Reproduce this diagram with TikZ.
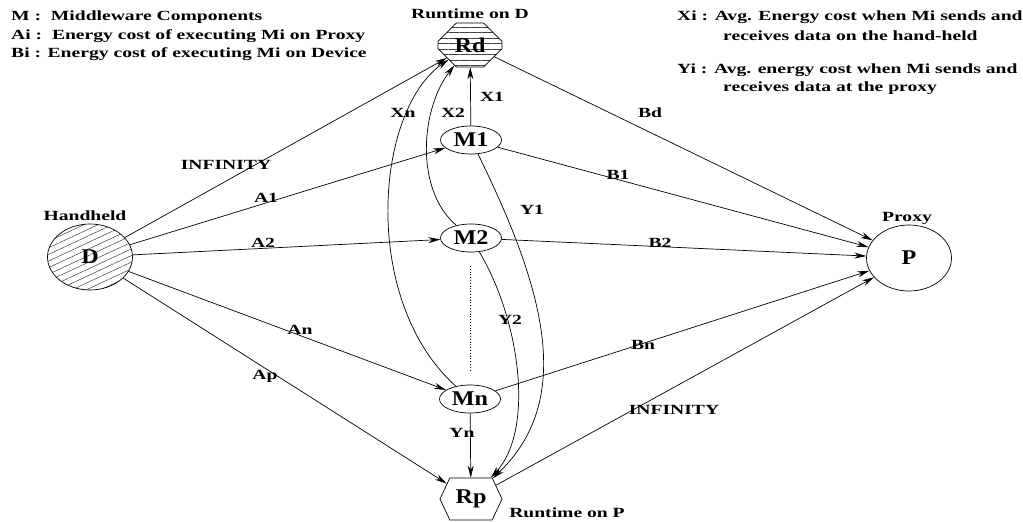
\documentclass[tikz,border=0pt]{standalone}
\usepackage{fontspec}
\setmainfont{Liberation Serif}[FakeStretch=1.4]
\newfontfamily\nodefont{Liberation Serif}[FakeStretch=1.15]
\usetikzlibrary{arrows.meta,shapes.geometric,shapes.misc,shapes.symbols,patterns.meta}
\begin{document}
\begin{tikzpicture}[x=1pt,y=-1pt,
  lbl/.style={font=\fontsize{14}{16}\selectfont\bfseries, inner sep=1pt},
  bigtxt/.style={font=\nodefont\fontsize{21}{21}\selectfont\bfseries},
  mnode/.style={ellipse, draw, line width=0.7pt, minimum width=61pt, minimum height=28pt, inner sep=0pt, bigtxt},
  endnode/.style={ellipse, draw, line width=0.7pt, minimum width=85pt, minimum height=66pt, inner sep=0pt, bigtxt},
  arr/.style={line width=0.7pt, -{Stealth[length=12pt,width=6pt]}}
]
\useasboundingbox (0,0) rectangle (1023,522);

% nodes
\node[endnode, pattern={Lines[angle=25,distance=6pt,line width=0.5pt]}, pattern color=black!75] (D) at (90,257) {D};
\node[endnode] (P) at (909,258) {P};
\node[chamfered rectangle, draw, line width=0.7pt, minimum width=64pt, minimum height=44pt, inner sep=0pt,
      chamfered rectangle xsep=11pt, chamfered rectangle ysep=11pt,
      pattern={Lines[angle=0,distance=5.5pt,line width=0.5pt]}, pattern color=black!75, bigtxt] (Rd) at (470,45) {Rd};
\node[mnode] (M1) at (471,140) {M1};
\node[mnode] (M2) at (471,238) {M2};
\node[mnode] (Mn) at (470,399) {Mn};
\node[signal, signal to=west and east, signal pointer angle=130, draw, line width=0.7pt,
      minimum width=62pt, minimum height=42pt, inner sep=0pt, bigtxt] (Rp) at (471,499) {Rp};

% dotted line
\draw[line width=0.8pt, dotted] (470,266) -- (470,370);

% edges from D
\draw[arr] (D) -- (Rd);
\draw[arr] (D) -- (M1);
\draw[arr] (D) -- (M2);
\draw[arr] (D) -- (Mn);
\draw[arr] (D) -- (Rp);
% edges to P
\draw[arr] (Rd) -- (P);
\draw[arr] (M1) -- (P);
\draw[arr] (M2) -- (P);
\draw[arr] (Mn) -- (P);
\draw[arr] (Rp) -- (P);
% edges to Rd
\draw[arr] (M1) -- (Rd);
\draw[arr] (M2) .. controls (415,190) and (420,110) .. (Rd);
\draw[arr] (Mn) .. controls (360,300) and (375,110) .. (Rd);
% edges to Rp
\draw[arr] (Mn) -- (Rp);
\draw[arr] (M1) .. controls (545,290) and (575,400) .. (Rp);
\draw[arr] (M2) .. controls (520,320) and (535,430) .. (Rp);

% node captions
\node[lbl] (capD) at (85,216) {Handheld};
\node[lbl] (capRd) at (470,14) {Runtime on D};
\node[lbl] (capP) at (907,218) {Proxy};
\node[lbl] (capRp) at (567,513) {Runtime on P};

% edge labels
\node[lbl] (l1) at (226,165) {INFINITY};
\node[lbl] (l2) at (266,198) {A1};
\node[lbl] (l3) at (263,243) {A2};
\node[lbl] (l4) at (300,330) {An};
\node[lbl] (l5) at (265,376) {Ap};
\node[lbl] (l6) at (403,113) {Xn};
\node[lbl] (l7) at (453,113) {X2};
\node[lbl] (l8) at (492,97) {X1};
\node[lbl] (l9) at (532,210) {Y1};
\node[lbl] (l10) at (510,320) {Y2};
\node[lbl] (l11) at (462,433) {Yn};
\node[lbl] (l12) at (650,113) {Bd};
\node[lbl] (l13) at (618,175) {B1};
\node[lbl] (l14) at (660,243) {B2};
\node[lbl] (l15) at (643,345) {Bn};
\node[lbl] (l16) at (674,410) {INFINITY};

% legends
\node[lbl, anchor=west] (g1) at (10,17) {M :\ \ Middleware Components};
\node[lbl, anchor=west] (g2) at (10,36) {Ai :\ \ Energy cost of executing Mi on Proxy};
\node[lbl, anchor=west] (g3) at (10,54) {Bi : Energy cost of executing Mi on Device};
\node[lbl, anchor=west] (g4) at (676,17) {Xi : Avg. Energy cost when Mi sends and};
\node[lbl, anchor=west] (g5) at (722,36) {receives data on the hand-held};
\node[lbl, anchor=west] (g6) at (676,70) {Yi : Avg. energy cost when Mi sends and};
\node[lbl, anchor=west] (g7) at (722,88) {receives data at the proxy};
\end{tikzpicture}
\end{document}
